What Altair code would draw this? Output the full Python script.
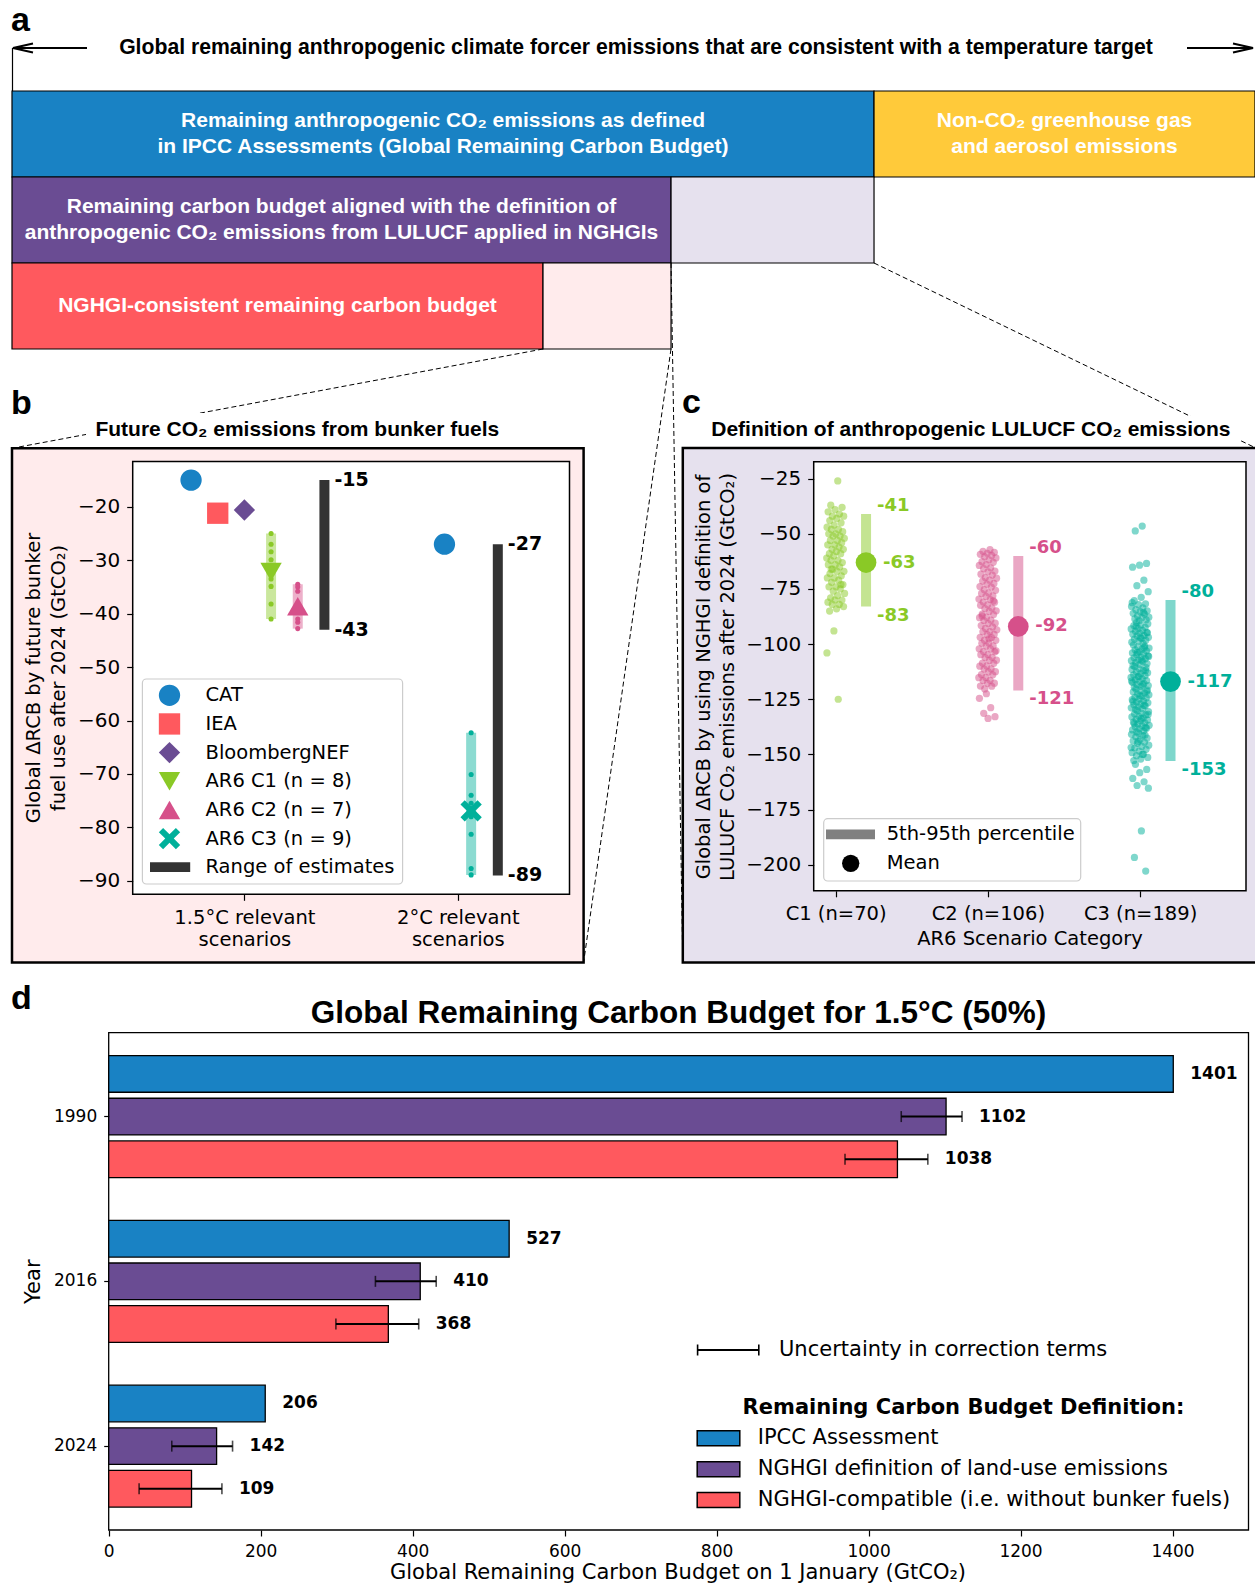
import json

import altair as alt
import pandas as pd

# ------------------------------------------------------------------ styling
BLUE, YELLOW, PURPLE, RED = "#1982c4", "#ffca3a", "#6a4c93", "#ff595e"
GREEN, PINK, TEAL, DARK = "#8ac926", "#d6508a", "#00b09a", "#333333"
LAVENDER, BLUSH = "#e6e1ee", "#ffebec"
SANS, HEAD = "DejaVu Sans", "Liberation Sans"
W, H = 1255, 1585

# pixel extent of every plotting area: [left, right] and [bottom, top]
A_X, A_Y = [12, 1255], [91, 349]
B_X, B_Y = [132.7, 569.5], [894.3, 461.6]
C_X, C_Y = [813.7, 1246.0], [890.8, 461.7]
D_X, D_Y = [108.7, 1248.5], [1032.7, 1530.0]

X_PATH = ("M-1,-0.6L-0.6,-1L0,-0.4L0.6,-1L1,-0.6L0.4,0L1,0.6L0.6,1"
          "L0,0.4L-0.6,1L-1,0.6L-0.4,0Z")

# ------------------------------------------------------------------ data
# (a) schematic: share of the full remaining-emissions bar (percent)
a_keys = ["ipcc", "nonco2", "nghgi_def", "nghgi_gap", "nghgi", "bunker_gap"]
a_labels = [
    "Remaining anthropogenic CO\u2082 emissions as defined\nin IPCC Assessments (Global Remaining Carbon Budget)",
    "Non-CO\u2082 greenhouse gas\nand aerosol emissions",
    "Remaining carbon budget aligned with the definition of\nanthropogenic CO\u2082 emissions from LULUCF applied in NGHGIs",
    "",
    "NGHGI-consistent remaining carbon budget",
    "",
]
a_start = [0, 69.35, 0, 53.02, 0, 42.72]
a_end = [69.35, 100, 53.02, 69.35, 42.72, 53.02]
a_row = [0, 0, 1, 1, 2, 2]

# (b) future CO2 emissions from bunker fuels (GtCO2)
b_groups = ["1.5°C", "2°C"]
b_group_labels = ["1.5°C relevant\nscenarios", "2°C relevant\nscenarios"]
b_est_series = ["CAT", "IEA", "BloombergNEF", "CAT"]
b_est_group = ["1.5°C", "1.5°C", "1.5°C", "2°C"]
b_est_value = [-15, -21.2, -20.6, -27]
b_c1 = [-25.0, -27.0, -28.4, -29.9, -33.5, -34.9, -38.2, -41.0]
b_c2 = [-34.5, -35.0, -35.8, -39.0, -41.0, -41.6, -42.8]
b_c3 = [-62.3, -70.1, -74.0, -75.5, -76.5, -78.0, -81.3, -87.7, -88.9]
b_ar6_series = ["AR6 C1", "AR6 C2", "AR6 C3"]
b_ar6_group = ["1.5°C", "1.5°C", "2°C"]
b_ar6_mean = [-32.2, -38.6, -76.9]
b_range_group = ["1.5°C", "2°C"]
b_range_hi = [-15, -27]
b_range_lo = [-43, -89]

# (c) change of the RCB under the NGHGI LULUCF definition (GtCO2)
c_cats = ["C1", "C2", "C3"]
c1_vals = [
    -26, -37, -38, -39, -40, -41, -42, -42, -43, -44,
    -45, -46, -47, -48, -48, -49, -50, -50, -51, -51,
    -52, -53, -53, -54, -55, -55, -56, -57, -57, -58,
    -59, -59, -60, -61, -62, -62, -63, -64, -64, -65,
    -66, -67, -67, -68, -69, -70, -70, -71, -72, -73,
    -74, -74, -75, -76, -77, -78, -79, -80, -80, -81,
    -82, -82, -83, -84, -85, -73, -94, -104, -125, -66,
]
c2_vals = [
    -57.2, -57.9, -58.4, -58.8, -59.3, -59.8,
    -60.4, -60.9, -61.8, -62.6, -62.9, -63.9, -64.3, -65.4, -65.8, -66.9,
    -67.2, -68.3, -68.7, -69.8, -70.1, -71.0, -71.4, -72.5, -72.8, -73.9,
    -74.1, -75.3, -75.6, -76.8, -77.0, -78.1, -78.4, -79.6, -79.8, -80.9,
    -81.0, -82.2, -82.4, -83.6, -83.9, -84.9, -85.2, -86.4, -86.6, -87.8,
    -88.0, -89.1, -89.3, -90.5, -90.7, -91.6, -92.2, -92.9, -93.5, -94.3,
    -94.4, -95.6, -95.7, -96.9, -97.0, -98.2, -98.3, -99.5, -99.6, -100.8,
    -100.9, -102.1, -102.2, -103.4, -103.5, -104.7, -104.8, -106.0, -106.1, -107.3,
    -107.4, -108.6, -108.7, -109.9, -110.0, -111.2, -111.3, -112.5, -112.6, -113.8,
    -113.9, -115.1, -115.2, -116.4, -116.5, -117.7, -117.8, -119.0, -119.1, -120.3,
    -103.0, -97.6, -87.2, -80.4,
    -122.5, -124.6, -128.8, -131.4, -132.9, -133.7,
]
c3_vals = [
    -46.5, -48.7,
    -63.4, -64.2, -65.1, -71.0, -73.5, -76.2, -78.8,
    -80.3, -81.7, -82.1, -82.9, -83.6, -84.4, -84.9, -85.3, -86.0, -86.4,
    -87.2, -87.8, -88.1, -88.6, -89.0, -89.4, -81.2, -85.7,
    -90.2, -90.8, -91.3, -91.6, -92.4, -92.9, -93.1, -93.8, -94.2, -94.7,
    -95.0, -95.5, -96.1, -96.3, -96.9, -97.4, -97.7, -98.2, -98.6, -99.1,
    -99.6, -91.9, -94.9, -97.0,
    -100.4, -100.9, -101.2, -101.8, -102.3, -102.6, -103.1, -103.5, -104.0, -104.4,
    -104.8, -105.3, -105.9, -106.2, -106.6, -107.1, -107.5, -107.9, -108.4, -108.8,
    -109.2, -109.7, -101.5, -103.8, -105.6, -107.3,
    -110.1, -110.7, -111.2, -111.5, -112.0, -112.6, -113.0, -113.4, -113.9, -114.3,
    -114.8, -115.1, -115.7, -116.2, -116.5, -117.0, -117.4, -117.9, -118.3, -118.8,
    -119.2, -119.6, -111.9, -114.6, -116.8, -118.5,
    -120.3, -120.8, -121.1, -121.7, -122.2, -122.5, -123.0, -123.6, -124.1, -124.4,
    -124.9, -125.2, -125.8, -126.3, -126.6, -127.1, -127.5, -128.0, -128.4, -128.9,
    -129.3, -129.7, -121.4, -123.3, -126.0, -127.8,
    -130.2, -130.6, -131.3, -131.6, -132.1, -132.7, -133.0, -133.5, -134.1, -134.4,
    -134.8, -135.4, -135.7, -136.2, -136.8, -137.1, -137.5, -138.1, -138.4, -138.9,
    -139.3, -139.8, -131.9, -133.8, -136.0, -137.9,
    -140.4, -140.9, -141.5, -142.0, -142.6, -143.3, -143.9, -144.5, -145.0, -145.8,
    -146.4, -147.1, -147.7, -148.5, -149.2, -149.9, -150.6, -151.4, -152.1, -152.8,
    -141.2, -144.1, -146.9, -150.0,
    -154.5, -156.8, -158.3, -160.9, -162.4, -164.1, -165.3,
    -184.7, -196.7, -202.9,
]
c_upper = [-41, -60, -80]      # 95th percentile
c_mean = [-63, -92, -117]
c_lower = [-83, -121, -153]    # 5th percentile

# (d) global remaining carbon budget for 1.5°C (GtCO2)
d_years = ["1990", "2016", "2024"]
d_series = ["IPCC Assessment", "NGHGI definition of land-use emissions",
            "NGHGI-compatible (i.e. without bunker fuels)"]
d_ipcc = [1401, 527, 206]
d_nghgi = [1102, 410, 142]
d_nghgi_lo = [1043, 351, 83]
d_nghgi_hi = [1123, 431, 163]
d_compat = [1038, 368, 109]
d_compat_lo = [969, 299, 40]
d_compat_hi = [1078, 408, 149]

# ------------------------------------------------------------------ helpers
ONE = pd.DataFrame({"k": [0]})


def note(text, x, y, size=19.5, font=SANS, weight="normal", color="black",
         align="center", baseline="middle", angle=0, line_height=None):
    """Free-standing text; multi-line blocks are centred on (x, y)."""
    kw = dict(text=text, font=font, fontSize=size, fontWeight=weight,
              color=color, align=align, baseline=baseline)
    if angle:
        kw["angle"] = angle
    if line_height:
        kw.update(lineBreak="\n", lineHeight=line_height)
        shift = (text.count("\n")) * line_height / 2
        if angle == 270:
            x -= shift
        else:
            y -= shift
    return alt.Chart(ONE).mark_text(**kw).encode(x=alt.value(x), y=alt.value(y))


def box(x0, x1, y0, y1, **style):
    return alt.Chart(ONE).mark_rect(**style).encode(
        x=alt.value(x0), x2=alt.value(x1), y=alt.value(y0), y2=alt.value(y1))


def seg(x0, y0, x1, y1, **style):
    return alt.Chart(ONE).mark_rule(**style).encode(
        x=alt.value(x0), x2=alt.value(x1), y=alt.value(y0), y2=alt.value(y1))


def lin(domain, rng):
    return alt.Scale(domain=domain, range=rng, nice=False, zero=False)


def axis(orient, offset, size, pad, **kw):
    return alt.Axis(orient=orient, offset=offset, title=None, domain=False, grid=False,
                    tickColor="black", tickWidth=1.2, labelColor="black", labelFont=SANS,
                    labelFontSize=size, labelPadding=pad, labelFlush=False, zindex=1, **kw)


def panel_letter(ch, x, y):
    return note(ch, x, y, size=34, font=HEAD, weight="bold", align="left", baseline="alphabetic")


def arrow_head(shape, x, y):
    return alt.Chart(ONE).mark_point(shape=shape, filled=False, size=400, strokeWidth=2,
                                     color="black", opacity=1).encode(
        x=alt.value(x), y=alt.value(y))


# ------------------------------------------------------------------ panel a
A_FILL = {"ipcc": BLUE, "nonco2": YELLOW, "nghgi_def": PURPLE,
          "nghgi_gap": LAVENDER, "nghgi": RED, "bunker_gap": BLUSH}
A_LINE_H = 26
A_ROW_PX = (A_Y[1] - A_Y[0]) / 3
a_df = pd.DataFrame({"key": a_keys, "label": a_labels, "start": a_start,
                     "end": a_end, "row": a_row})
a_xs, a_ys = lin([0, 100], A_X), lin([0, 3], A_Y)
a_boxes = alt.Chart(a_df).transform_calculate(row_end="datum.row + 1").mark_rect(
    stroke="black", strokeWidth=1.2).encode(
    x=alt.X("start:Q", scale=a_xs, axis=None), x2="end:Q",
    y=alt.Y("row:Q", scale=a_ys, axis=None), y2="row_end:Q",
    color=alt.Color("key:N", scale=alt.Scale(domain=a_keys, range=[A_FILL[k] for k in a_keys]),
                    legend=None))
a_text = alt.Chart(a_df).transform_filter("datum.label != ''").transform_calculate(
    mid="(datum.start + datum.end) / 2",
    n_lines="length(split(datum.label, '\\n'))",
    row_mid=f"datum.row + 0.5 - (datum.n_lines - 1) * {A_LINE_H / 2 / A_ROW_PX}").mark_text(
    color="white", font=HEAD, fontWeight="bold", fontSize=21, lineBreak="\n",
    lineHeight=A_LINE_H).encode(
    x=alt.X("mid:Q", scale=a_xs, axis=None), y=alt.Y("row_mid:Q", scale=a_ys, axis=None),
    text="label:N")
panel_a = alt.layer(a_boxes, a_text)

header = [
    panel_letter("a", 11, 31),
    note("Global remaining anthropogenic climate forcer emissions that are consistent "
         "with a temperature target", 636, 48, size=21.2, font=HEAD, weight="bold"),
    seg(13, 48, 87, 48, color="black", strokeWidth=2),
    seg(1187, 48, 1253, 48, color="black", strokeWidth=2),
    arrow_head("M1,-0.45L-1,0L1,0.45", 23, 48),
    arrow_head("M-1,-0.45L1,0L-1,0.45", 1243, 48),
    seg(12.5, 48, 12.5, 91, color="black", strokeWidth=1.2),
]

dash = dict(color="black", strokeWidth=1, strokeDash=[5, 3])
connectors = [
    seg(543, 349, 12, 448.3, **dash),
    seg(671, 349, 583.6, 962.4, **dash),
    seg(671, 263, 682.8, 962.4, **dash),
    seg(874, 263, 1262, 451, **dash),
]

# ------------------------------------------------------------------ panel b
B_SERIES = ["CAT", "IEA", "BloombergNEF", "AR6 C1", "AR6 C2", "AR6 C3"]
B_COLOR = [BLUE, RED, PURPLE, GREEN, PINK, TEAL]
B_SHAPE = ["circle", "square", "diamond", "triangle-down", "triangle-up", X_PATH]
B_SIZE = [455, 455, 824, 470, 470, 441]
B_SLOT = {("1.5°C", "CAT"): -2, ("1.5°C", "IEA"): -1, ("1.5°C", "BloombergNEF"): 0,
          ("1.5°C", "AR6 C1"): 1, ("1.5°C", "AR6 C2"): 2, ("1.5°C", "range"): 3,
          ("2°C", "CAT"): -0.5, ("2°C", "AR6 C3"): 0.5, ("2°C", "range"): 1.5}


def b_pos(group, series):
    return b_groups.index(group) + B_SLOT[(group, series)] * 0.125


b_cs = alt.Scale(domain=B_SERIES, range=B_COLOR)
b_ss = alt.Scale(domain=B_SERIES, range=B_SHAPE)
b_zs = alt.Scale(domain=B_SERIES, range=B_SIZE)
B_XS, B_YS = lin([-0.5, 1.5], B_X), lin([-92.53, -11.54], B_Y)
B_XAX = axis("bottom", B_Y[0] - H, 19.5, 8.5, values=[0, 1], tickSize=6, labelLineHeight=22,
             labelExpr="split(" + json.dumps(b_group_labels, ensure_ascii=False)
             + "[datum.value], '\\n')")
B_YAX = axis("left", -B_X[0], 20, 7, values=list(range(-90, -19, 10)), tickSize=6)


def bx(field="pos"):
    return alt.X(f"{field}:Q", scale=B_XS, axis=B_XAX)


def by(field):
    return alt.Y(f"{field}:Q", scale=B_YS, axis=B_YAX)


b_ar6_vals = [b_c1, b_c2, b_c3]
b_markers = pd.DataFrame(
    [(s, b_pos(g, s), v) for s, g, v in zip(b_est_series, b_est_group, b_est_value)]
    + [(s, b_pos(g, s), v) for s, g, v in zip(b_ar6_series, b_ar6_group, b_ar6_mean)],
    columns=["series", "pos", "value"])
b_dots = pd.DataFrame(
    [(s, b_pos(g, s), v) for s, g, vals in zip(b_ar6_series, b_ar6_group, b_ar6_vals)
     for v in vals], columns=["series", "pos", "value"])
b_bands = pd.DataFrame(
    [(s, b_pos(g, s), min(vals), max(vals))
     for s, g, vals in zip(b_ar6_series, b_ar6_group, b_ar6_vals)],
    columns=["series", "pos", "lo", "hi"])
b_ranges = pd.DataFrame({"pos": [b_pos(g, "range") for g in b_range_group],
                         "lo": b_range_lo, "hi": b_range_hi})
b_range_ends = pd.DataFrame({"pos": [b_pos(g, "range") for g in b_range_group] * 2,
                             "value": b_range_hi + b_range_lo})

panel_b = alt.layer(
    alt.Chart(b_bands).mark_bar(size=10, opacity=0.45).encode(
        x=bx(), y=by("lo"), y2="hi:Q", color=alt.Color("series:N", scale=b_cs, legend=None)),
    alt.Chart(b_ranges).mark_bar(size=10, color=DARK).encode(x=bx(), y=by("lo"), y2="hi:Q"),
    alt.Chart(b_dots).mark_point(filled=True, size=26, opacity=1).encode(
        x=bx(), y=by("value"), color=alt.Color("series:N", scale=b_cs, legend=None)),
    alt.Chart(b_markers).mark_point(filled=True, opacity=1).encode(
        x=bx(), y=by("value"), color=alt.Color("series:N", scale=b_cs, legend=None),
        shape=alt.Shape("series:N", scale=b_ss, legend=None),
        size=alt.Size("series:N", scale=b_zs, legend=None)),
    alt.Chart(b_range_ends).transform_calculate(lab="'' + datum.value").mark_text(
        align="left", baseline="middle", dx=10, font=SANS, fontWeight="bold",
        fontSize=19, color="black").encode(x=bx(), y=by("value"), text="lab:N"),
)

b_legend_labels = ["CAT", "IEA", "BloombergNEF", f"AR6 C1 (n = {len(b_c1)})",
                   f"AR6 C2 (n = {len(b_c2)})", f"AR6 C3 (n = {len(b_c3)})",
                   "Range of estimates"]
b_leg = pd.DataFrame({"series": B_SERIES + ["range"], "label": b_legend_labels,
                      "row": list(range(7))})
b_leg_y = "695.3 + datum.row * 28.65"
b_legend = [
    box(142.4, 402.6, 679, 884, fill="white", fillOpacity=0.8, stroke="#cccccc",
        strokeWidth=1.2, cornerRadius=4),
    alt.Chart(b_leg).transform_filter("datum.series != 'range'").transform_calculate(
        ly=b_leg_y).mark_point(filled=True, opacity=1).encode(
        x=alt.value(169.5), y=alt.Y("ly:Q", scale=None, axis=None),
        color=alt.Color("series:N", scale=b_cs, legend=None),
        shape=alt.Shape("series:N", scale=b_ss, legend=None),
        size=alt.Size("series:N", scale=b_zs, legend=None)),
    box(150, 190.2, 862.3, 872.1, fill=DARK),
    alt.Chart(b_leg).transform_calculate(ly=b_leg_y).mark_text(
        align="left", baseline="middle", font=SANS, fontSize=19.5, color="black").encode(
        x=alt.value(205.5), y=alt.Y("ly:Q", scale=None, axis=None), text="label:N"),
]

b_decor = [
    box(12, 583.6, 448.3, 962.4, fill=BLUSH, stroke="black", strokeWidth=2.5),
    box(86, 508, 413, 442, fill="white"),
    note("Future CO\u2082 emissions from bunker fuels", 297.3, 436.4, size=21, font=HEAD,
         weight="bold", baseline="alphabetic"),
    panel_letter("b", 11, 414),
    note("Global \u0394RCB by future bunker\nfuel use after 2024 (GtCO\u2082)", 46.5, 678,
         angle=270, line_height=25.6),
    box(B_X[0], B_X[1], B_Y[1], B_Y[0], fill="white", stroke="black", strokeWidth=1.5),
]

# ------------------------------------------------------------------ panel c
C_COLOR = [GREEN, PINK, TEAL]
c_cs = alt.Scale(domain=c_cats, range=C_COLOR)
c_vals = [c1_vals, c2_vals, c3_vals]
c_tick_labels = [f"{c} (n={len(v)})" for c, v in zip(c_cats, c_vals)]
C_XS, C_YS = lin([-0.111, 2.663], C_X), lin([-211.85, -17.29], C_Y)
C_XAX = axis("bottom", C_Y[0] - H, 19.5, 8, values=[0, 1, 2], tickSize=6,
             labelExpr=json.dumps(c_tick_labels) + "[datum.value]")
C_YAX = axis("left", -C_X[0], 20, 7, values=list(range(-200, -24, 25)), tickSize=6)


def cx(field):
    return alt.X(f"{field}:Q", scale=C_XS, axis=C_XAX)


def cy(field):
    return alt.Y(f"{field}:Q", scale=C_YS, axis=C_YAX)


c_df = pd.DataFrame([(c, i, v) for i, (c, vals) in enumerate(zip(c_cats, c_vals)) for v in vals],
                    columns=["cat", "idx", "value"])
c_stats = pd.DataFrame({"cat": c_cats, "idx": range(3), "upper": c_upper,
                        "mean": c_mean, "lower": c_lower})
c_color = alt.Color("cat:N", scale=c_cs, legend=None)


def c_label(field, dx, baseline, dy):
    return alt.Chart(c_stats).transform_calculate(
        bx="datum.idx + 0.2", lab=f"'' + datum['{field}']").mark_text(
        align="left", baseline=baseline, dx=dx, dy=dy, font=SANS, fontWeight="bold",
        fontSize=18).encode(x=cx("bx"), y=cy(field), text="lab:N", color=c_color)


panel_c = alt.layer(
    alt.Chart(c_df).transform_window(rank="row_number()", groupby=["cat"]).transform_calculate(
        jx="datum.idx + ((datum.rank * 0.618034) % 1 - 0.5) * 0.12").mark_point(
        filled=True, size=52, opacity=0.5).encode(x=cx("jx"), y=cy("value"), color=c_color),
    alt.Chart(c_stats).transform_calculate(bx="datum.idx + 0.2").mark_bar(
        size=10, opacity=0.5).encode(x=cx("bx"), y=cy("lower"), y2="upper:Q", color=c_color),
    alt.Chart(c_stats).transform_calculate(bx="datum.idx + 0.2").mark_point(
        filled=True, size=430, opacity=1).encode(x=cx("bx"), y=cy("mean"), color=c_color),
    c_label("upper", 11, "bottom", 1),
    c_label("mean", 17, "middle", 0),
    c_label("lower", 11, "top", 0),
)

c_decor = [
    box(682.8, 1262, 448.1, 962.4, fill=LAVENDER, stroke="black", strokeWidth=2.5),
    box(700, 1241, 416, 442, fill="white"),
    note("Definition of anthropogenic LULUCF CO\u2082 emissions", 970.8, 436.4, size=21,
         font=HEAD, weight="bold", baseline="alphabetic"),
    panel_letter("c", 682, 413),
    note("Global \u0394RCB by using NGHGI definition of\nLULUCF CO\u2082 emissions after 2024 (GtCO\u2082)",
         716, 677, angle=270, line_height=24.7),
    note("AR6 Scenario Category", 1030, 939.4),
    box(C_X[0], C_X[1], C_Y[1], C_Y[0], fill="white", stroke="black", strokeWidth=1.5),
]
c_legend = [
    box(823.7, 1080.7, 818.7, 881, fill="white", fillOpacity=0.8, stroke="#cccccc",
        strokeWidth=1.2, cornerRadius=4),
    box(826, 875, 829.5, 839.2, fill="#808080"),
    alt.Chart(ONE).mark_point(filled=True, size=300, color="black", opacity=1).encode(
        x=alt.value(850.7), y=alt.value(863.3)),
    note("5th-95th percentile", 886.7, 834.3, align="left"),
    note("Mean", 886.7, 863.3, align="left"),
]

# ------------------------------------------------------------------ panel d
D_COLOR = [BLUE, PURPLE, RED]
d_cs = alt.Scale(domain=d_series, range=D_COLOR)
d_rows = []
for i, yr in enumerate(d_years):
    d_rows.append((yr, d_series[0], d_ipcc[i], None, None))
    d_rows.append((yr, d_series[1], d_nghgi[i], d_nghgi_lo[i], d_nghgi_hi[i]))
    d_rows.append((yr, d_series[2], d_compat[i], d_compat_lo[i], d_compat_hi[i]))
d_df = pd.DataFrame(d_rows, columns=["year", "series", "value", "lo", "hi"])

D_XS = lin([0, 1500], D_X)
D_YS = alt.Scale(domain=d_years, range=D_Y, paddingInner=0.2236, paddingOuter=0.1208)
D_OS = alt.Scale(domain=d_series, paddingInner=0.14, paddingOuter=0.07)
D_XAX = axis("bottom", D_Y[1] - H, 17, 7, values=list(range(0, 1401, 200)), tickSize=6,
             format="d")
D_YAX = axis("left", -D_X[0], 17, 7, tickSize=5)


def dx_(field):
    return alt.X(f"{field}:Q", scale=D_XS, axis=D_XAX)


d_y = alt.Y("year:N", scale=D_YS, axis=D_YAX, sort=d_years)
d_off = alt.YOffset("series:N", scale=D_OS, sort=d_series)
d_err = alt.Chart(d_df).transform_filter("isValid(datum.hi)")

panel_d = alt.layer(
    alt.Chart(d_df).mark_bar(stroke="black", strokeWidth=1.3).encode(
        x=dx_("value"), y=d_y, yOffset=d_off,
        color=alt.Color("series:N", scale=d_cs, legend=None)),
    d_err.mark_rule(color="black", strokeWidth=2).encode(
        x=dx_("lo"), x2="hi:Q", y=d_y, yOffset=d_off),
    d_err.mark_tick(color="black", thickness=1.6, size=11).encode(
        x=dx_("lo"), y=d_y, yOffset=d_off),
    d_err.mark_tick(color="black", thickness=1.6, size=11).encode(
        x=dx_("hi"), y=d_y, yOffset=d_off),
    alt.Chart(d_df).transform_calculate(
        end="isValid(datum.hi) ? datum.hi : datum.value", lab="'' + datum.value").mark_text(
        align="left", baseline="middle", dx=17, font=SANS, fontWeight="bold", fontSize=17,
        color="black").encode(x=dx_("end"), y=d_y, yOffset=d_off, text="lab:N"),
)

d_leg = pd.DataFrame({"series": d_series, "row": range(3)})
d_leg_y = "1438.3 + datum.row * 30.85"
d_decor = [
    panel_letter("d", 11, 1009),
    note("Global Remaining Carbon Budget for 1.5°C (50%)", 678.5, 1022.7, size=31.5,
         font=HEAD, weight="bold", baseline="alphabetic"),
    box(D_X[0], D_X[1], D_Y[0], D_Y[1], fill="white", stroke="black", strokeWidth=1.3),
]
d_labels = [
    note("Year", 33.5, 1281.7, size=21, angle=270),
    note("Global Remaining Carbon Budget on 1 January (GtCO\u2082)", 678, 1573, size=21),
]
d_legend = [
    seg(697.6, 1350, 758.8, 1350, color="black", strokeWidth=2),
    seg(697.6, 1344.5, 697.6, 1355.5, color="black", strokeWidth=1.6),
    seg(758.8, 1344.5, 758.8, 1355.5, color="black", strokeWidth=1.6),
    note("Uncertainty in correction terms", 779, 1350, size=21, align="left"),
    note("Remaining Carbon Budget Definition:", 963.5, 1407.7, size=21, weight="bold"),
    alt.Chart(d_leg).transform_calculate(
        y0=d_leg_y + " - 7.5", y1=d_leg_y + " + 7.5").mark_rect(
        stroke="black", strokeWidth=1.5).encode(
        x=alt.value(697.2), x2=alt.value(739.8),
        y=alt.Y("y0:Q", scale=None, axis=None), y2="y1:Q",
        color=alt.Color("series:N", scale=d_cs, legend=None)),
    alt.Chart(d_leg).transform_calculate(ly=d_leg_y).mark_text(
        align="left", baseline="middle", font=SANS, fontSize=21, color="black").encode(
        x=alt.value(757.7), y=alt.Y("ly:Q", scale=None, axis=None), text="series:N"),
]

# ------------------------------------------------------------------ assemble
layers = ([panel_a] + header + connectors
          + b_decor + [panel_b] + b_legend
          + c_decor + [panel_c] + c_legend
          + d_decor + [panel_d] + d_labels + d_legend)

chart = alt.layer(*layers).resolve_scale(
    x="independent", y="independent", color="independent",
    shape="independent", size="independent",
).properties(
    width=W, height=H, padding=0, background="white",
    autosize=alt.AutoSizeParams(type="none"),
).configure_view(stroke=None)

chart.save("out.html", embed_options={"renderer": "svg", "actions": False})
